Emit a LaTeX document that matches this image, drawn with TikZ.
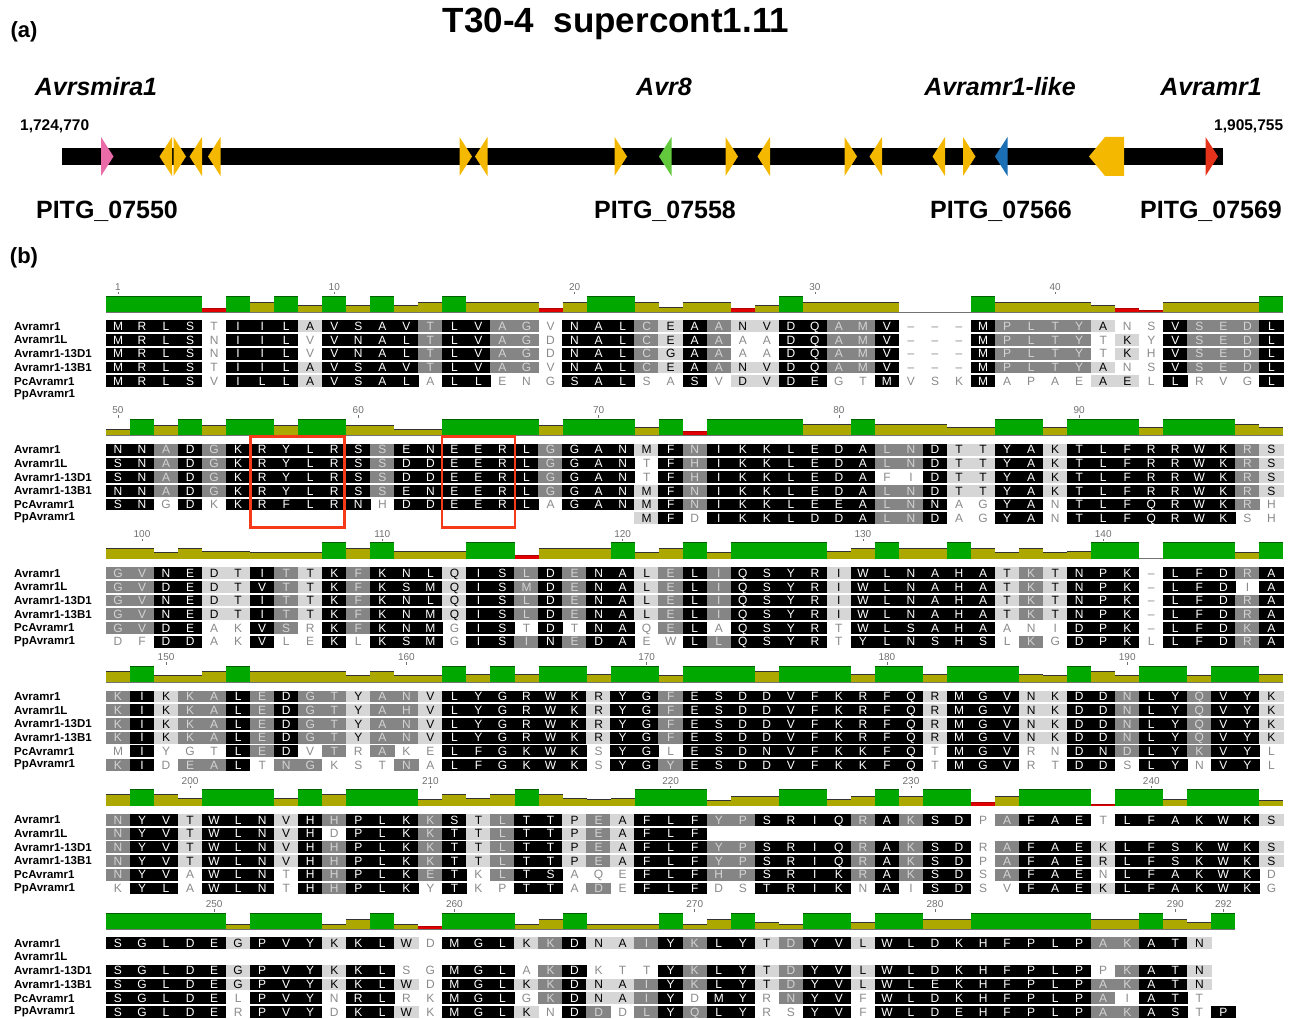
\documentclass[tikz,border=0pt]{standalone}
\usepackage{fontspec}
\setmainfont{Liberation Sans}
\definecolor{cgreen}{HTML}{00A800}
\definecolor{colive}{HTML}{ACA800}
\definecolor{cred}{HTML}{E00000}
\definecolor{dgreen}{HTML}{005F00}
\definecolor{shd}{HTML}{858585}
\definecolor{shl}{HTML}{D6D6D6}
\definecolor{txd}{HTML}{D4D4D4}
\definecolor{txw}{HTML}{8A8A8A}
\definecolor{rulecol}{HTML}{707070}
\definecolor{gorange}{HTML}{F5B800}
\definecolor{gpink}{HTML}{E96BA8}
\definecolor{ggreen}{HTML}{62C93C}
\definecolor{gblue}{HTML}{1B6FB5}
\definecolor{gred}{HTML}{E5321B}
\definecolor{boxred}{HTML}{F53A1A}
\tikzset{
 cell/.style={inner sep=0pt, minimum width=24.4pt, minimum height=11.8pt, text height=8.5pt, text depth=0pt, font=\fontsize{12}{12}\selectfont, anchor=center},
 shK/.style={fill=black, text=white},
 shD/.style={fill=shd, text=txd},
 shL/.style={fill=shl, text=black},
 shW/.style={text=txw},
 shG/.style={text=txw},
 barG/.style={fill=cgreen}, barO/.style={fill=colive}, barR/.style={fill=cred},
 bartopG/.style={draw=dgreen, line width=0.9pt},
 bartopO/.style={draw=black!80, line width=0.9pt},
 bartopR/.style={draw=cred!80!black, line width=0.6pt},
 rowlab/.style={anchor=west, inner sep=0pt, font=\fontsize{11.5}{12}\selectfont\bfseries},
 ruler/.style={font=\fontsize{10}{10}\selectfont, text=rulecol, inner sep=0pt},
 genelab/.style={font=\fontsize{25}{25}\selectfont\bfseries\itshape, inner sep=0pt},
 pitg/.style={font=\fontsize{25}{25}\selectfont\bfseries, inner sep=0pt},
 coordlab/.style={font=\fontsize{15.5}{16}\selectfont\bfseries, inner sep=0pt},
 panel/.style={font=\fontsize{22}{22}\selectfont\bfseries, inner sep=0pt},
}
\newcommand\AlnCell[5]{%
  \if E#5\else
    \node[cell,sh#5] (c#1r#2k#3) at ({118+(#3-1)*24.03},{326.3+123.4*#1+13.7*(#2-1)}) {\if G#5\textendash\else#4\fi};%
  \fi}
\newcommand\AlnBar[4]{%
  \if N#4\else
    \fill[bar#4] ({106+(#2-1)*24.03},{312+123.4*#1}) rectangle ({106+#2*24.03},{312+123.4*#1-#3});%
    \draw[bartop#4] ({106+(#2-1)*24.03},{312+123.4*#1-#3}) -- ({106+#2*24.03},{312+123.4*#1-#3});%
  \fi}
\newcommand\AlnTick[3]{%
  \node[ruler] (t#1p#2) at ({118+(#2-#3)*24.03},{287+123.4*#1}) {#2};%
  \draw[rulecol, line width=0.6pt] ({118+(#2-#3)*24.03},{292+123.4*#1}) -- ++(0,2.5);%
}
\newcommand\gR[2]{\fill[#2] (#1,137) -- (#1+12.5,156.5) -- (#1,176) -- cycle;}
\newcommand\gL[2]{\fill[#2] (#1,156.5) -- (#1+12.5,137) -- (#1+12.5,176) -- cycle;}

\ExplSyntaxOn
\int_new:N \l__aln_n_int
\int_new:N \l__aln_p_int
\tl_new:N \l__aln_ci_tl
\tl_new:N \l__aln_cj_tl
\tl_new:N \l__aln_col_tl
\tl_new:N \l__aln_i_tl
\tl_new:N \l__aln_j_tl
\tl_new:N \l__aln_bc_tl
\bool_new:N \l__aln_res_bool
\fp_new:N \l__aln_f_fp
\tl_const:Nn \c__aln_dot_tl {.}
\tl_const:Nn \c__aln_gap_tl {-}
\cs_new:Npn \__aln_item:nn #1#2 { \exp_args:Nc \str_item:Nn { g__aln_r #1 _tl } {#2} }
\cs_new:Npn \__aln_shade:nn #1#2 { \exp_args:Nc \str_item:Nn { g__aln_s #1 _tl } {#2} }
\NewDocumentCommand \AlnRow { m m m }
  {
    \tl_gset:cx { g__aln_r #1 _tl } { \tl_to_str:n {#2} }
    \tl_gset:cx { g__aln_s #1 _tl } { \tl_to_str:n {#3} }
  }
\NewDocumentCommand \AlnBlock { m m }
  {
    \int_step_variable:nNn {#2} \l__aln_col_tl
      {
        \int_zero:N \l__aln_n_int
        \int_zero:N \l__aln_p_int
        \int_step_variable:nNn {6} \l__aln_i_tl
          {
            \tl_set:Nx \l__aln_ci_tl { \__aln_item:nn { \l__aln_i_tl } { \l__aln_col_tl } }
            \use:x
              {
                \exp_not:N \AlnCell {#1} { \l__aln_i_tl } { \l__aln_col_tl }
                  { \l__aln_ci_tl }
                  { \__aln_shade:nn { \l__aln_i_tl } { \l__aln_col_tl } }
              }
            \tl_if_eq:NNTF \l__aln_ci_tl \c__aln_dot_tl
              { \bool_set_false:N \l__aln_res_bool }
              {
                \int_incr:N \l__aln_n_int
                \tl_if_eq:NNTF \l__aln_ci_tl \c__aln_gap_tl
                  { \bool_set_false:N \l__aln_res_bool }
                  { \bool_set_true:N \l__aln_res_bool }
              }
            \bool_if:NT \l__aln_res_bool
              {
                \int_step_variable:nnNn { \l__aln_i_tl + 1 } { 6 } \l__aln_j_tl
                  {
                    \tl_set:Nx \l__aln_cj_tl { \__aln_item:nn { \l__aln_j_tl } { \l__aln_col_tl } }
                    \tl_if_eq:NNT \l__aln_ci_tl \l__aln_cj_tl { \int_incr:N \l__aln_p_int }
                  }
              }
          }
        \int_compare:nNnTF { \l__aln_n_int } < { 2 }
          { \fp_set:Nn \l__aln_f_fp { \l__aln_n_int } }
          { \fp_set:Nn \l__aln_f_fp { 2 * \l__aln_p_int / ( \l__aln_n_int * ( \l__aln_n_int - 1 ) ) } }
        \fp_compare:nNnTF { \l__aln_f_fp } > { 0.999 }
          { \tl_set:Nn \l__aln_bc_tl { G } }
          {
            \fp_compare:nNnTF { \l__aln_f_fp } > { 0.29 }
              { \tl_set:Nn \l__aln_bc_tl { O } }
              {
                \fp_compare:nNnTF { \l__aln_f_fp } > { 0.001 }
                  { \tl_set:Nn \l__aln_bc_tl { R } }
                  { \tl_set:Nn \l__aln_bc_tl { N } }
              }
          }
        \use:x
          {
            \exp_not:N \AlnBar {#1} { \l__aln_col_tl }
              { \fp_eval:n { round( 16 * \l__aln_f_fp , 2 ) } }
              { \l__aln_bc_tl }
          }
      }
  }
\ExplSyntaxOff

\begin{document}
\begin{tikzpicture}[x=1pt,y=-1pt]
\path[use as bounding box] (0,0) rectangle (1294,1019);

% ---------- panel (a) ----------
\node[panel] (pa) at (24,32) {(a)};
\node[font=\fontsize{35}{35}\selectfont\bfseries, inner sep=0pt] (title) at (616,24) {T30-4\ \ supercont1.11};
\node[genelab] (g1) at (96,87) {Avrsmira1};
\node[genelab] (g2) at (664,87) {Avr8};
\node[genelab] (g3) at (1000,87) {Avramr1-like};
\node[genelab] (g4) at (1211,87) {Avramr1};
\node[coordlab, anchor=west] (cl) at (20,126) {1,724,770};
\node[coordlab, anchor=west] (cr) at (1214,126) {1,905,755};
\fill[black] (62,148) rectangle (1223,165);
\gR{101}{gpink}
\gL{159.5}{gorange}
\gR{173.5}{gorange}
\gL{189.5}{gorange}
\gL{208}{gorange}
\gR{459.5}{gorange}
\gL{475}{gorange}
\gR{614.5}{gorange}
\gL{659}{ggreen}
\gR{725.5}{gorange}
\gL{757.5}{gorange}
\gR{844.5}{gorange}
\gL{869.5}{gorange}
\gL{932.5}{gorange}
\gR{963}{gorange}
\gL{995}{gblue}
\fill[gorange] (1089,156.5) -- (1105,137) -- (1124,137) -- (1124,176) -- (1105,176) -- cycle;
\gR{1205.5}{gred}
\node[pitg] (p1) at (107,211) {PITG\_07550};
\node[pitg] (p2) at (665,211) {PITG\_07558};
\node[pitg] (p3) at (1001,211) {PITG\_07566};
\node[pitg] (p4) at (1211,211) {PITG\_07569};

% ---------- panel (b) ----------
\node[panel] (pb) at (24,258) {(b)};

\foreach \b in {0,...,5}{
  \foreach \n [count=\r] in {Avramr1,Avramr1L,Avramr1-13D1,Avramr1-13B1,PcAvramr1,PpAvramr1}{
    \node[rowlab] (lab\b-\r) at (14,{326.3+123.4*\b+13.7*(\r-1)}) {\n};
  }
}
\foreach \b/\nc in {0/49,1/49,2/49,3/49,4/49,5/47}{
  \draw[black!55, line width=0.7pt] (106,{312+123.4*\b}) -- ({106+\nc*24.03},{312+123.4*\b});
}
\foreach \p in {1,10,20,30,40}{\AlnTick{0}{\p}{1}}
\foreach \p in {50,60,70,80,90}{\AlnTick{1}{\p}{50}}
\foreach \p in {100,110,120,130,140}{\AlnTick{2}{\p}{99}}
\foreach \p in {150,160,170,180,190}{\AlnTick{3}{\p}{148}}
\foreach \p in {200,210,220,230,240}{\AlnTick{4}{\p}{197}}
\foreach \p in {250,260,270,280,290,292}{\AlnTick{5}{\p}{246}}

% block 1 : 1-49
\AlnRow{1}{MRLSTIILAVSAVTLVAGVNALCEAANVDQAMV---MPLTYANSVSEDL}{KKKKWKKKLKKKKDKKDDWKKKDLKDLLKKDDKGGGKDDDDLWWKDDDK}
\AlnRow{2}{MRLSNIILVVNALTLVAGDNALCEAAAADQAMV---MPLTYTKYVSEDL}{KKKKWKKKWKKKKDKKDDWKKKDLKDWWKKDDKGGGKDDDDWLWKDDDK}
\AlnRow{3}{MRLSNIILVVNALTLVAGDNALCGAAAADQAMV---MPLTYTKHVSEDL}{KKKKWKKKWKKKKDKKDDWKKKDLKDWWKKDDKGGGKDDDDWLWKDDDK}
\AlnRow{4}{MRLSTIILAVSAVTLVAGVNALCEAANVDQAMV---MPLTYANSVSEDL}{KKKKWKKKLKKKKDKKDDWKKKDLKDLLKKDDKGGGKDDDDLWWKDDDK}
\AlnRow{5}{MRLSVILLAVSALALLENGSALSASVDVDEGTMVSKMAPAEAELLRVGL}{KKKKWKKKLKKKKWKKWWWKKKWWKWLLKKWWKWWWKWWWWLLWKWWWK}
\AlnRow{6}{.................................................}{EEEEEEEEEEEEEEEEEEEEEEEEEEEEEEEEEEEEEEEEEEEEEEEEE}
\AlnBlock{0}{49}

% block 2 : 50-98
\AlnRow{1}{NNADGKRYLRSSENEERLGGANMFNIKKLEDALNDTTYAKTLFRRWKRS}{KKDKDKKKKKKDKKKKKKDKKKLKDKKKKKKKDDKLLKKLKKKKKKKDL}
\AlnRow{2}{SNADGKRYLRSSDDEERLGGANTFHIKKLEDALNDTTYAKTLFRRWKRS}{KKDKDKKKKKKDKKKKKKDKKKWKDKKKKKKKDDKLLKKLKKKKKKKDL}
\AlnRow{3}{SNADGKRYLRSSDDEERLGGANTFHIKKLEDAFIDTTYAKTLFRRWKRS}{KKDKDKKKKKKDKKKKKKDKKKWKDKKKKKKKWWKLLKKLKKKKKKKDL}
\AlnRow{4}{NNADGKRYLRSSENEERLGGANMFNIKKLEDALNDTTYAKTLFRRWKRS}{KKDKDKKKKKKDKKKKKKDKKKLKDKKKKKKKDDKLLKKLKKKKKKKDL}
\AlnRow{5}{SNGDKKRFLRNHDDEERLAGANMFNIKKLEEALNNAGYANTLFQRWKRH}{KKWKWKKKKKKWKKKKKKWKKKLKDKKKKKKKDDKWWKKWKKKKKKKDW}
\AlnRow{6}{......................MFDIKKLDDALNDAGYANTLFQRWKSH}{EEEEEEEEEEEEEEEEEEEEEELKWKKKKKKKDDKWWKKWKKKKKKKWW}
\AlnBlock{1}{49}

% block 3 : 99-147
\AlnRow{1}{GVNEDTITTKFKNLQISLDENALELIQSYRIWLNAHATKTNPK-LFDRA}{DDKKLLKDLKDKKKLKKDKDKKLDKDKKKKLKKKKKKLDLKKKGKKKDK}
\AlnRow{2}{GVDEDTVTTKFKSMQISMDENALELIQSYRIWLNAHATKTNPK-LFDIA}{DDKKLLKDLKDKKKLKKDKDKKLDKDKKKKLKKKKKKLDLKKKGKKKWK}
\AlnRow{3}{GVNEDTITTKFKNLQISLDENALELIQSYRIWLNAHATKTNPK-LFDRA}{DDKKLLKDLKDKKKLKKDKDKKLDKDKKKKLKKKKKKLDLKKKGKKKDK}
\AlnRow{4}{GVNEDTITTKFKNMQISLDENALELIQSYRIWLNAHATKTNPK-LFDRA}{DDKKLLKDLKDKKKLKKDKDKKLDKDKKKKLKKKKKKLDLKKKGKKKDK}
\AlnRow{5}{GVDEAKVSRKFKNMGISTDTNAQELAQSYRTWLSAHAANIDPK-LFDKA}{DDKKWWKDWKDKKKWKKWKWKKWDKWKKKKWKKKKKKWWWKKKGKKKDK}
\AlnRow{6}{DFDDAKVLEKLKSMGISINEDAEWLLQSYRTYLNSHSLKGDPKLLFDRA}{WWKKWWKWWKWKKKWKKDKDKKWWKDKKKKWKKKKKKWDWKKKWKKKDK}
\AlnBlock{2}{49}

% block 4 : 148-196
\AlnRow{1}{KIKKALEDGTYANVLYGRWKRYGFESDDVFKRFQRMGVNKDDNLYQVYK}{DKLDDKDKDDLDDLKKKKKKLKKDKKKKKKKKKKLKKKLLKKDKKDKKL}
\AlnRow{2}{KIKKALEDGTYAHVLYGRWKRYGFESDDVFKRFQRMGVNKDDNLYQVYK}{DKLDDKDKDDLDDLKKKKKKLKKDKKKKKKKKKKLKKKLLKKDKKDKKL}
\AlnRow{3}{KIKKALEDGTYANVLYGRWKRYGFESDDVFKRFQRMGVNKDDNLYQVYK}{DKLDDKDKDDLDDLKKKKKKLKKDKKKKKKKKKKLKKKLLKKDKKDKKL}
\AlnRow{4}{KIKKALEDGTYANVLYGRWKRYGFESDDVFKRFQRMGVNKDDNLYQVYK}{DKLDDKDKDDLDDLKKKKKKLKKDKKKKKKKKKKLKKKLLKKDKKDKKL}
\AlnRow{5}{MIYGTLEDVTRAKELFGKWKSYGLESDNVFKKFQTMGVRNDNDLYKVYL}{WKWWWKDKWDWDWWKKKKKKWKKWKKKKKKKKKKWKKKWWKKDKKDKKW}
\AlnRow{6}{KIDEALTNGKSTNALFGKWKSYGYESDDVFKKFQTMGVRTDDSLYNVYL}{DKWDDKWDDWWWDWKKKKKKWKKDKKKKKKKKKKWKKKWWKKWKKWKKW}
\AlnBlock{3}{49}

% block 5 : 197-245
\AlnRow{1}{NYVTWLNVHHPLKKSTLTTPEAFLFYPSRIQRAKSDPAFAETLFAKWKS}{DKKLKKKLKDKKKDKLDKKLDLKKKDDKKKKDKDKKWDKKKWKKKKKKL}
\AlnRow{2}{NYVTWLNVHDPLKKTTLTTPEAFLF........................}{DKKLKKKLKWKKKDKLDKKLDLKKKEEEEEEEEEEEEEEEEEEEEEEEE}
\AlnRow{3}{NYVTWLNVHHPLKKTTLTTPEAFLFYPSRIQRAKSDRAFAEKLFSKWKS}{DKKLKKKLKDKKKDKLDKKLDLKKKDDKKKKDKDKKWDKKKLKKKKKKL}
\AlnRow{4}{NYVTWLNVHHPLKKTTLTTPEAFLFYPSRIQRAKSDPAFAERLFSKWKS}{DKKLKKKLKDKKKDKLDKKLDLKKKDDKKKKDKDKKWDKKKLKKKKKKL}
\AlnRow{5}{NYVAWLNTHHPLKETKLTSAQEFLFHPSRIKRAKSDSAFAENLFAKWKD}{DKKWKKKWKDKKKDKWDKKWWWKKKDDKKKKDKDKKWDKKKWKKKKKKW}
\AlnRow{6}{KYLAWLNTHHPLKYTKPTTADEFLFDSTRIKNAISDSVFAEKLFAKWKG}{WKKWKKKWKDKKKWKWWKKWDWKKKWWKKKKWKWKKWWKKKLKKKKKKW}
\AlnBlock{4}{49}

% block 6 : 246-292
\AlnRow{1}{SGLDEGPVYKKLWDMGLKKDNAIYKLYTDYVLWLDKHFPLPAKATN.}{KKKKKLKKKLKKLWKKKLDKLLDKDKKLDKKLKKKKKKKKKDDKKLE}
\AlnRow{2}{...............................................}{EEEEEEEEEEEEEEEEEEEEEEEEEEEEEEEEEEEEEEEEEEEEEEE}
\AlnRow{3}{SGLDEGPVYKKLSGMGLAKDKTTYKLYTDYVLWLDKHFPLPPKATN.}{KKKKKLKKKLKKWWKKKWDKWWWKDKKLDKKLKKKKKKKKKWDKKLE}
\AlnRow{4}{SGLDEGPVYKKLWDMGLKKDNAIYKLYTDYVLWLEKHFPLPAKATN.}{KKKKKLKKKLKKLWKKKLDKLLDKDKKLDKKLKKKKKKKKKDDKKLE}
\AlnRow{5}{SGLDELPVYNRLRKMGLGKDNAIYDMYRNYVFWLDKHFPLPAIATT.}{KKKKKWKKKWKKWWKKKWDKLLDKWKKWDKKWKKKKKKKKKDWKKWE}
\AlnRow{6}{SGLDERPVYDKLWKMGLKNDDDLYQLYRSYVFWLDEHFPLPAKASTP}{KKKKKWKKKWKKLWKKKLWKDWDKDKKWWKKWKKKKKKKKKDDKKWK}
\AlnBlock{5}{47}

% highlight boxes
\draw[boxred, line width=2.8pt] (250.5,436.5) rectangle (344.5,527.5);
\draw[boxred, line width=2.8pt] (442,436.5) rectangle (515,527.5);
\end{tikzpicture}
\end{document}
